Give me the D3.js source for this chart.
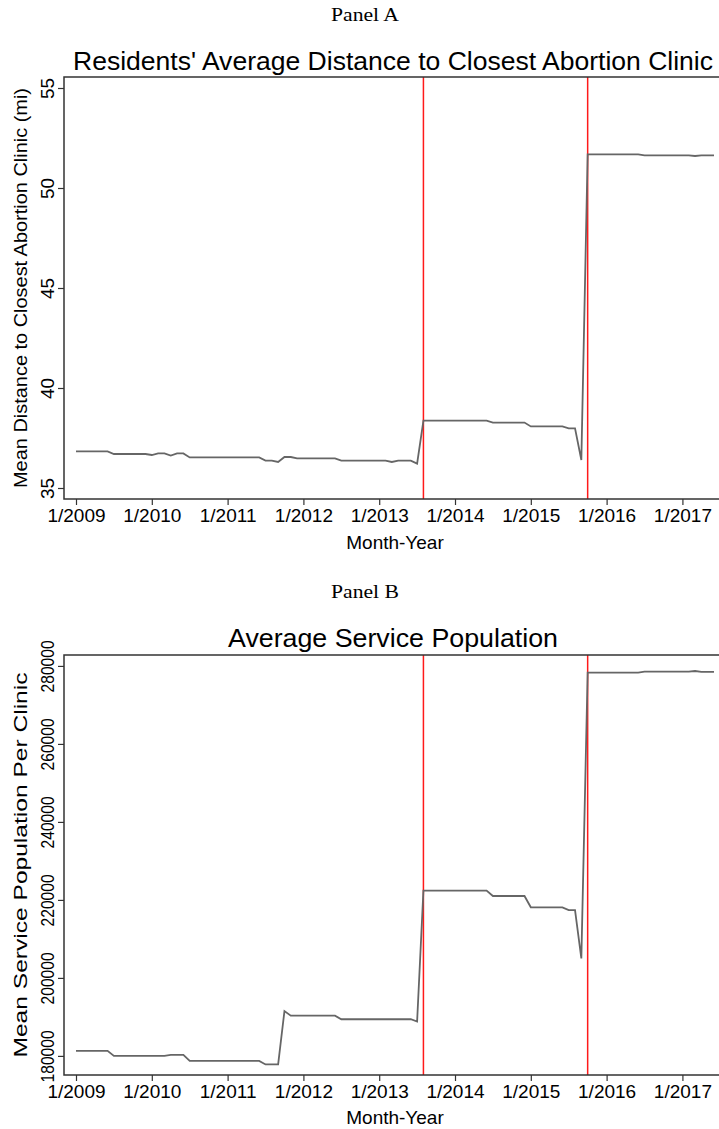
<!DOCTYPE html>
<html>
<head>
<meta charset="utf-8">
<script src="https://cdn.jsdelivr.net/npm/d3@7"></script>
<style>
  body { margin: 0; background: #fff; }
  svg { display: block; }
</style>
</head>
<body>
<div id="chart"></div>
<script>
// month index 0 = 1/2009, one value per month through 6/2017
var distance = [
  36.83, 36.83, 36.83, 36.83, 36.83, 36.83,
  36.70, 36.70, 36.70, 36.70, 36.70, 36.70,
  36.65, 36.73, 36.73, 36.62, 36.73, 36.73,
  36.53, 36.53, 36.53, 36.53, 36.53, 36.53, 36.53, 36.53, 36.53, 36.53, 36.53, 36.53,
  36.37, 36.37, 36.30, 36.55, 36.55,
  36.48, 36.48, 36.48, 36.48, 36.48, 36.48, 36.48,
  36.37, 36.37, 36.37, 36.37, 36.37, 36.37, 36.37, 36.37,
  36.30, 36.37, 36.37, 36.37, 36.22,
  38.37, 38.37, 38.37, 38.37, 38.37, 38.37, 38.37, 38.37, 38.37, 38.37, 38.37,
  38.27, 38.27, 38.27, 38.27, 38.27, 38.27,
  38.08, 38.08, 38.08, 38.08, 38.08, 38.08,
  37.98, 37.98, 36.40,
  51.68, 51.68, 51.68, 51.68, 51.68, 51.68, 51.68, 51.68, 51.68,
  51.63, 51.63, 51.63, 51.63, 51.63, 51.63, 51.63, 51.63,
  51.60, 51.63, 51.63, 51.63
];

var population = [
  181300, 181300, 181300, 181300, 181300, 181300,
  180000, 180000, 180000, 180000, 180000, 180000, 180000, 180000, 180000,
  180250, 180250, 180250,
  178700, 178700, 178700, 178700, 178700, 178700, 178700, 178700, 178700, 178700, 178700, 178700,
  177800, 177800, 177800,
  191500,
  190300, 190300, 190300, 190300, 190300, 190300, 190300, 190300,
  189400, 189400, 189400, 189400, 189400, 189400, 189400, 189400, 189400, 189400, 189400, 189400,
  188800,
  222400, 222400, 222400, 222400, 222400, 222400, 222400, 222400, 222400, 222400, 222400,
  221000, 221000, 221000, 221000, 221000, 221000,
  218100, 218100, 218100, 218100, 218100, 218100,
  217400, 217400, 205000,
  278300, 278300, 278300, 278300, 278300, 278300, 278300, 278300, 278300,
  278550, 278550, 278550, 278550, 278550, 278550, 278550, 278550,
  278700, 278450, 278450, 278450
];

var startYear = 2009;
var xTicks = [0, 12, 24, 36, 48, 60, 72, 84, 96];   // January of each year
var events = [55, 81];                               // 8/2013, 10/2015
var distTicks = [35, 40, 45, 50, 55];
var popTicks = [180000, 200000, 220000, 240000, 260000, 280000];

var W = 719, H = 1129;
var font = "'Liberation Sans', Arial, sans-serif";

var svg = d3.select('#chart')
  .append('svg')
    .attr('width', W)
    .attr('height', H);

var x = d3.scaleLinear().domain([-1.9, 102.9]).range([64, 726]);

function drawPanel(cfg){
  var g = svg.append('g');
  var y = d3.scaleLinear().domain(cfg.domain).range([cfg.bottom, cfg.top]);

  g.append('text')
    .attr('x', 365).attr('y', cfg.labelY)
    .attr('text-anchor', 'middle')
    .attr('font-family', "'Liberation Serif', 'DejaVu Serif', serif")
    .attr('font-size', 18)
    .attr('textLength', 68)
    .attr('lengthAdjust', 'spacingAndGlyphs')
    .text(cfg.label);

  g.append('text')
    .attr('x', 393).attr('y', cfg.titleY)
    .attr('text-anchor', 'middle')
    .attr('font-family', font)
    .attr('font-size', 26)
    .attr('textLength', cfg.titleLen)
    .attr('lengthAdjust', 'spacingAndGlyphs')
    .text(cfg.title);

  // x axis
  var xa = g.append('g')
    .attr('transform', 'translate(0,' + cfg.bottom + ')')
    .call(d3.axisBottom(x).tickValues(xTicks).tickSize(6).tickPadding(4)
      .tickFormat(function(d){ return '1/' + (startYear + d / 12); }));
  xa.select('.domain').remove();
  xa.selectAll('line').attr('stroke', '#333').attr('stroke-width', 1.2);
  xa.selectAll('text')
    .attr('font-family', font).attr('font-size', 19).attr('fill', '#000');

  // y axis, labels turned vertical
  var ya = g.append('g')
    .attr('transform', 'translate(64,0)')
    .call(d3.axisLeft(y).tickValues(cfg.ticks).tickSize(6).tickFormat(d3.format('d')));
  ya.select('.domain').remove();
  ya.selectAll('line').attr('stroke', '#333').attr('stroke-width', 1.2);
  var yt = ya.selectAll('text')
    .attr('transform', 'rotate(-90)')
    .attr('x', 0).attr('y', -10).attr('dy', 0)
    .attr('text-anchor', 'middle')
    .attr('font-family', font).attr('font-size', 19).attr('fill', '#000');
  if (cfg.tickLen) yt.attr('textLength', cfg.tickLen).attr('lengthAdjust', 'spacingAndGlyphs');

  g.append('text')
    .attr('transform', 'translate(27,' + ((cfg.top + cfg.bottom) / 2) + ') rotate(-90)')
    .attr('text-anchor', 'middle')
    .attr('font-family', font)
    .attr('font-size', 19)
    .attr('textLength', cfg.yTitleLen)
    .attr('lengthAdjust', 'spacingAndGlyphs')
    .text(cfg.yTitle);

  g.append('text')
    .attr('x', 395).attr('y', cfg.xTitleY)
    .attr('text-anchor', 'middle')
    .attr('font-family', font)
    .attr('font-size', 19)
    .text('Month-Year');

  // event lines
  g.selectAll('.event')
    .data(events).enter()
    .append('line')
      .attr('class', 'event')
      .attr('x1', function(d){ return x(d); })
      .attr('x2', function(d){ return x(d); })
      .attr('y1', cfg.top).attr('y2', cfg.bottom)
      .attr('stroke', '#ff1a1a')
      .attr('stroke-width', 1.5);

  var line = d3.line()
    .x(function(d, i){ return x(i); })
    .y(function(d){ return y(d); });

  g.append('path')
    .datum(cfg.values)
    .attr('d', line)
    .attr('fill', 'none')
    .attr('stroke', '#666')
    .attr('stroke-width', 1.8);

  // plot region border
  g.append('rect')
    .attr('x', 64).attr('y', cfg.top)
    .attr('width', 726 - 64).attr('height', cfg.bottom - cfg.top)
    .attr('fill', 'none')
    .attr('stroke', '#333')
    .attr('stroke-width', 1.5);
}

drawPanel({
  label: 'Panel A', labelY: 21,
  title: "Residents' Average Distance to Closest Abortion Clinic", titleY: 70, titleLen: 640,
  yTitle: 'Mean Distance to Closest Abortion Clinic (mi)', yTitleLen: 400,
  top: 77, bottom: 499, domain: [34.45, 55.55], ticks: distTicks,
  values: distance, xTitleY: 549
});

drawPanel({
  label: 'Panel B', labelY: 598,
  title: 'Average Service Population', titleY: 647, titleLen: 330,
  yTitle: 'Mean Service Population Per Clinic', yTitleLen: 385,
  top: 655, bottom: 1075, domain: [175100, 282800], ticks: popTicks, tickLen: 52,
  values: population, xTitleY: 1124
});
</script>
</body>
</html>
